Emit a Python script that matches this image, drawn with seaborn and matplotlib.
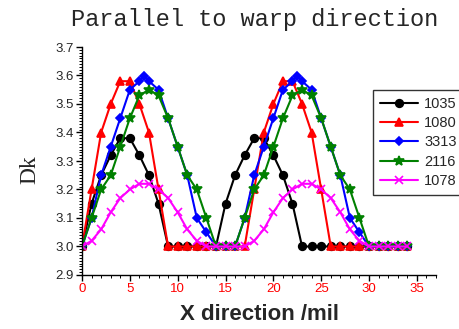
import matplotlib
matplotlib.use('Agg')
import matplotlib.pyplot as plt
import seaborn as sns
from matplotlib.ticker import MultipleLocator

# x positions (mil)
x_std = list(range(0, 35))
x_3313 = [0, 1, 2, 3, 4, 5, 6, 6.5, 7, 8, 9, 10, 11, 12, 13, 14, 15,
          16, 17, 18, 19, 20, 21, 22, 22.5, 23, 24, 25, 26, 27, 28, 29, 30,
          31, 32, 33, 34]

dk_1035 = [3.0, 3.15, 3.25, 3.32, 3.38, 3.38, 3.32, 3.25, 3.15, 3.0,
           3.0, 3.0, 3.0, 3.0, 3.0, 3.15, 3.25, 3.32, 3.38, 3.38,
           3.32, 3.25, 3.15, 3.0, 3.0, 3.0, 3.0, 3.0, 3.0, 3.0,
           3.0, 3.0, 3.0, 3.0, 3.0]
dk_1080 = [3.0, 3.2, 3.4, 3.5, 3.58, 3.58, 3.5, 3.4, 3.2, 3.0,
           3.0, 3.0, 3.0, 3.0, 3.0, 3.0, 3.0, 3.0, 3.2, 3.4,
           3.5, 3.58, 3.58, 3.5, 3.4, 3.2, 3.0, 3.0, 3.0, 3.0,
           3.0, 3.0, 3.0, 3.0, 3.0]
dk_3313 = [3.0, 3.1, 3.25, 3.35, 3.45, 3.55, 3.58, 3.6, 3.58, 3.55,
           3.45, 3.35, 3.25, 3.1, 3.05, 3.0, 3.0,
           3.0, 3.1, 3.25, 3.35, 3.45, 3.55, 3.58, 3.6, 3.58, 3.55,
           3.45, 3.35, 3.25, 3.1, 3.05, 3.0, 3.0, 3.0, 3.0, 3.0]
dk_2116 = [3.0, 3.1, 3.2, 3.25, 3.35, 3.45, 3.53, 3.55, 3.53, 3.45,
           3.35, 3.25, 3.2, 3.1, 3.0, 3.0, 3.0, 3.1, 3.2, 3.25,
           3.35, 3.45, 3.53, 3.55, 3.53, 3.45, 3.35, 3.25, 3.2, 3.1,
           3.0, 3.0, 3.0, 3.0, 3.0]
dk_1078 = [3.0, 3.02, 3.06, 3.12, 3.17, 3.2, 3.22, 3.22, 3.2, 3.17,
           3.12, 3.06, 3.02, 3.0, 3.0, 3.0, 3.0, 3.0, 3.02, 3.06,
           3.12, 3.17, 3.2, 3.22, 3.22, 3.2, 3.17, 3.12, 3.06, 3.02,
           3.0, 3.0, 3.0, 3.0, 3.0]

series = [
    ('1035', x_std, dk_1035, 'black', 'o', 5.5),
    ('1080', x_std, dk_1080, 'red', '^', 5.5),
    ('3313', x_3313, dk_3313, 'blue', 'D', 4.5),
    ('2116', x_std, dk_2116, 'green', '*', 7.5),
    ('1078', x_std, dk_1078, 'magenta', 'x', 5.5),
]

sns.set_style('white')
fig = plt.figure(figsize=(4.59, 3.29), dpi=100)
ax = fig.add_axes([82 / 459, 1 - 275 / 329, (436 - 82) / 459, (275 - 47) / 329])

for name, xs, ys, col, mk, ms in series:
    sns.lineplot(x=xs, y=ys, color=col, marker=mk, markersize=ms,
                 markeredgecolor=col, markeredgewidth=1.2, linewidth=1.5,
                 label=name, ax=ax, sort=False)

ax.set_xlim(0, 37)
ax.set_ylim(2.9, 3.7)
ax.xaxis.set_major_locator(MultipleLocator(5))
ax.xaxis.set_minor_locator(MultipleLocator(1))
ax.yaxis.set_major_locator(MultipleLocator(0.1))
ax.yaxis.set_minor_locator(MultipleLocator(0.01))
ax.yaxis.set_major_formatter(matplotlib.ticker.FormatStrFormatter('%.1f'))

for s in ['top', 'right']:
    ax.spines[s].set_visible(False)
for s in ['left', 'bottom']:
    ax.spines[s].set_color('black')
    ax.spines[s].set_linewidth(1.0)

ax.tick_params(which='major', direction='out', length=4, width=1, color='black',
               left=True, bottom=True, labelsize=9.5, labelfontfamily='Liberation Sans')
ax.tick_params(which='minor', direction='out', length=2, width=0.7, color='black',
               left=True, bottom=True)
ax.tick_params(axis='x', labelcolor='red', pad=2)
ax.tick_params(axis='y', pad=2)

fig.text(0.555, 0.94, 'Parallel to warp direction', ha='center', va='center',
         fontsize=17, family='Liberation Mono')
fig.text(0.065, 0.485, 'Dk', ha='center', va='center', rotation=90,
         fontsize=17, family='Liberation Serif')
ax.set_xlabel('X direction /mil', fontsize=16, fontweight='bold',
              family='Liberation Sans', labelpad=6)
ax.set_ylabel('')

leg = ax.legend(loc='upper left', bbox_to_anchor=(373 / 459, 1 - 90 / 329),
                bbox_transform=fig.transFigure, borderaxespad=0,
                fancybox=False, frameon=True, edgecolor='black',
                prop={'family': 'Liberation Sans', 'size': 10.5},
                handlelength=2.6, handletextpad=0.4, labelspacing=0.35,
                borderpad=0.5)
leg.get_frame().set_linewidth(1.0)

fig.savefig('out.png', dpi=100)
